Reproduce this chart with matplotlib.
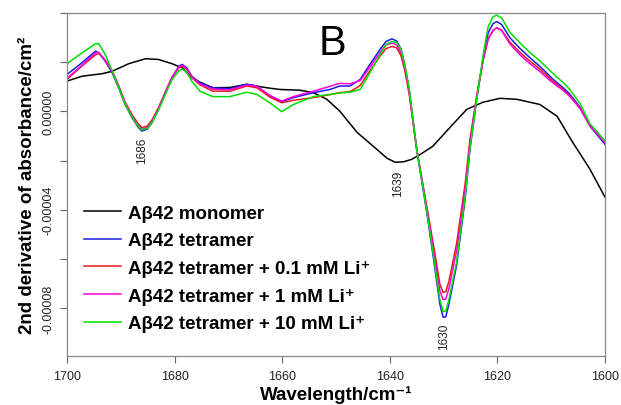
import numpy as np
import matplotlib
matplotlib.use('Agg')
import matplotlib.pyplot as plt

plt.rcParams['font.family'] = ['Liberation Sans', 'DejaVu Sans']

# wavenumbers (cm-1) and 2nd derivative values (x 1e-5)
wn_mono = [1700, 1697.2, 1693.5, 1691.6, 1688.5, 1685.4, 1683.0, 1680.5, 1678.6, 1676.8,
           1675.3, 1672.9, 1669.7, 1666.6, 1662.9, 1660.4, 1656.7, 1654.2, 1651.7, 1649.3,
           1646.1, 1641.8, 1640.5, 1639.0, 1637.4, 1635.9, 1634.4, 1632.0, 1628.8, 1625.7,
           1622.7, 1619.5, 1616.4, 1612.1, 1608.9, 1606.0, 1602.8, 1600]
monomer = [1.23, 1.43, 1.53, 1.63, 1.94, 2.14, 2.11, 1.94, 1.77, 1.37,
           1.19, 0.96, 0.97, 1.10, 0.96, 0.89, 0.86, 0.76, 0.49, 0.01,
           -0.85, -1.66, -1.91, -2.07, -2.05, -1.95, -1.76, -1.42, -0.65, 0.08,
           0.37, 0.53, 0.49, 0.28, -0.20, -1.26, -2.35, -3.49]

wn_tet = [1700, 1697.2, 1694.7, 1694.1, 1692.9, 1691.6, 1690.4, 1689.2, 1687.9, 1686.7,
          1686.1, 1685.1, 1684.2, 1683.0, 1681.7, 1680.5, 1679.2, 1678.6, 1677.7, 1676.8,
          1675.3, 1672.9, 1669.7, 1666.6, 1664.7, 1662.3, 1660.1, 1657.9, 1654.2, 1651.1,
          1649.3, 1647.4, 1645.5, 1643.7, 1641.8, 1640.7, 1639.6, 1638.7, 1637.9, 1637.2,
          1636.4, 1635.0, 1633.1, 1631.6, 1630.7, 1630.1, 1629.6, 1629.0, 1627.6, 1626.0,
          1625.1, 1623.8, 1622.6, 1621.7, 1620.8, 1620.1, 1619.2, 1617.7, 1615.8, 1614.0,
          1612.1, 1610.2, 1609.0, 1607.8, 1606.5, 1604.6, 1602.8, 1600]
tetramer = [1.50, 1.98, 2.45, 2.38, 2.04, 1.57, 0.96, 0.28, -0.26, -0.66,
            -0.80, -0.73, -0.46, 0.08, 0.76, 1.37, 1.84, 1.91, 1.77, 1.43,
            1.16, 0.96, 0.92, 1.10, 1.03, 0.62, 0.39, 0.56, 0.76, 0.89,
            1.03, 1.03, 1.30, 1.91, 2.52, 2.84, 2.95, 2.86, 2.52, 1.87,
            0.89, -1.54, -4.14, -6.41, -7.83, -8.37, -8.36, -7.83, -6.28, -3.57,
            -1.54, 0.57, 2.23, 3.21, 3.57, 3.65, 3.53, 3.00, 2.56, 2.19,
            1.83, 1.42, 1.18, 0.97, 0.69, 0.16, -0.60, -1.34]
li_01 = [1.30, 1.85, 2.30, 2.36, 2.08, 1.65, 1.05, 0.38, -0.14, -0.52,
         -0.66, -0.60, -0.35, 0.15, 0.80, 1.38, 1.78, 1.83, 1.70, 1.37,
         1.08, 0.82, 0.82, 1.03, 0.96, 0.58, 0.35, 0.45, 0.56, 0.68,
         0.76, 0.80, 1.05, 1.65, 2.25, 2.55, 2.64, 2.58, 2.25, 1.65,
         0.70, -1.54, -3.89, -5.80, -7.02, -7.36, -7.34, -6.90, -5.40, -2.96,
         -1.14, 0.70, 2.15, 2.95, 3.30, 3.40, 3.30, 2.82, 2.40, 2.05,
         1.72, 1.33, 1.10, 0.90, 0.62, 0.12, -0.57, -1.25]
li_1 = [1.34, 1.88, 2.38, 2.40, 2.08, 1.62, 1.00, 0.33, -0.20, -0.60,
        -0.73, -0.66, -0.40, 0.12, 0.78, 1.38, 1.82, 1.87, 1.73, 1.40,
        1.12, 0.90, 0.88, 1.07, 1.02, 0.65, 0.42, 0.60, 0.82, 1.02,
        1.14, 1.12, 1.25, 1.80, 2.40, 2.70, 2.78, 2.70, 2.38, 1.78,
        0.80, -1.54, -4.00, -6.05, -7.30, -7.65, -7.64, -7.20, -5.70, -3.20,
        -1.30, 0.65, 2.12, 2.95, 3.30, 3.40, 3.28, 2.75, 2.30, 1.95,
        1.62, 1.25, 1.05, 0.86, 0.60, 0.10, -0.58, -1.27]
li_10 = [1.94, 2.38, 2.75, 2.75, 2.31, 1.63, 0.97, 0.30, -0.24, -0.62,
         -0.75, -0.70, -0.45, 0.05, 0.70, 1.28, 1.65, 1.72, 1.58, 1.22,
         0.82, 0.60, 0.60, 0.78, 0.69, 0.35, -0.01, 0.28, 0.60, 0.69,
         0.75, 0.78, 0.89, 1.57, 2.31, 2.72, 2.84, 2.80, 2.52, 1.87,
         0.95, -1.54, -4.10, -6.30, -7.65, -8.14, -8.13, -7.65, -6.15, -3.50,
         -1.50, 0.55, 2.35, 3.45, 3.85, 3.91, 3.80, 3.22, 2.78, 2.40,
         2.05, 1.65, 1.40, 1.18, 0.88, 0.30, -0.50, -1.20]

labels = ['A\u03b242 monomer', 'A\u03b242 tetramer', 'A\u03b242 tetramer + 0.1 mM Li\u207a',
          'A\u03b242 tetramer + 1 mM Li\u207a', 'A\u03b242 tetramer + 10 mM Li\u207a']
colors = ['black', '#1a1ae6', '#e61a1a', '#ff00dd', '#00e000']

# peak labels: text, x, y (x 1e-5)
peak_txt = ['1686', '1639', '1630']
peak_x = [1686.1, 1638.5, 1629.9]
peak_y = [-1.58, -2.92, -9.13]

fig = plt.figure(figsize=(6.21, 4.06), dpi=100)
ax = fig.add_axes([0.1079, 0.1207, 0.8663, 0.8448])

sc = 1e-5
ax.plot(wn_mono, np.array(monomer) * sc, color=colors[0], lw=1.1, label=labels[0])
series = [tetramer, li_01, li_1, li_10]
for i in range(len(series)):
    ax.plot(wn_tet, np.array(series[i]) * sc, color=colors[i + 1], lw=1.1, label=labels[i + 1])

for i in range(len(peak_txt)):
    ax.text(peak_x[i], peak_y[i] * sc, peak_txt[i], rotation=90, ha='center', va='center',
            fontsize=8.5, color='#222222')

ax.text(1650.7, 2.80 * sc, 'B', fontsize=30, ha='center', va='center')

ax.set_xlim(1700, 1600)
ax.set_ylim(-0.0000995, 0.0000398)
ax.set_xticks([1700, 1680, 1660, 1640, 1620, 1600])
yt = [0.00004, 0.00002, 0.0, -0.00002, -0.00004, -0.00006, -0.00008]
ax.set_yticks(yt)
ax.set_yticklabels(['', '', '0.00000', '', '-0.00004', '', '-0.00008'], rotation=90, va='center')
ax.tick_params(axis='both', direction='out', length=5, width=0.8, color='#666666',
               labelsize=9, labelcolor='#222222', pad=5)
ax.tick_params(axis='y', pad=4)
for s in ax.spines.values():
    s.set_color('#888888')
    s.set_linewidth(0.9)

ax.set_ylabel('2nd derivative of absorbance/cm\u00b2', fontsize=13.5, fontweight='bold', labelpad=5)
ax.set_xlabel('Wavelength/cm\u207b\u00b9', fontsize=13.5, fontweight='bold', labelpad=2.5)

leg = ax.legend(loc='lower left', frameon=False, prop={'weight': 'bold', 'size': 13.5},
                handlelength=2.0, handletextpad=0.35, labelspacing=0.56,
                bbox_to_anchor=(0.0, 0.02))

plt.savefig('out.png', dpi=100)
